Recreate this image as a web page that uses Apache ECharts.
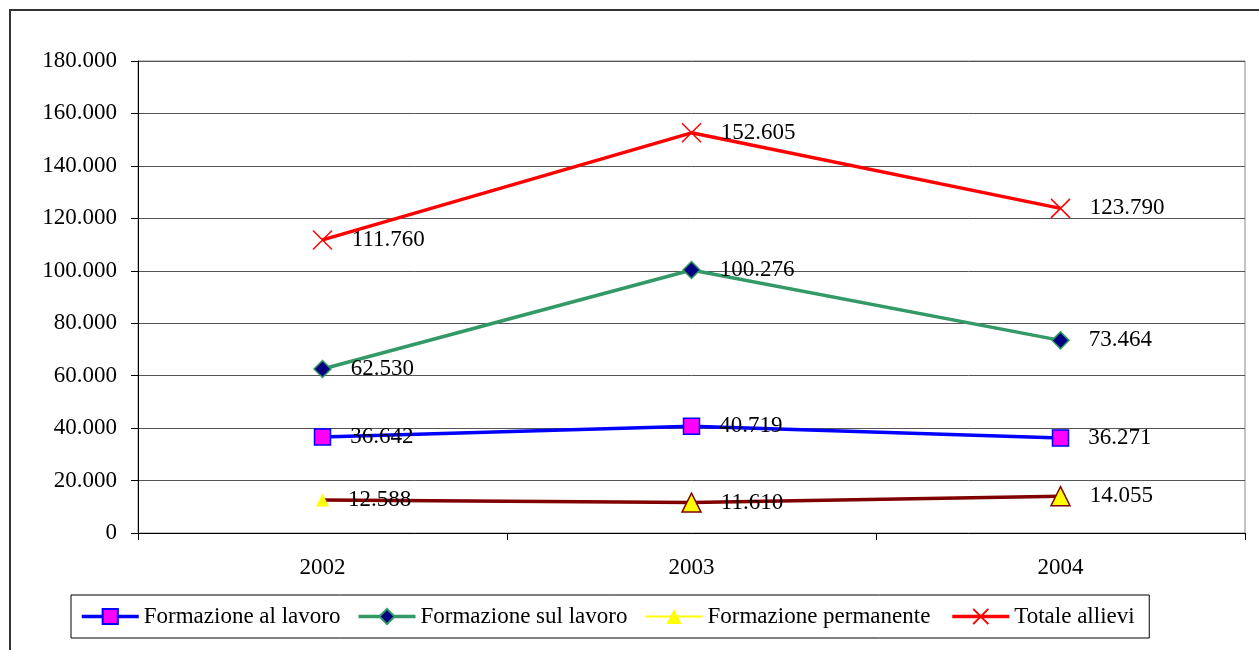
<!DOCTYPE html>
<html>
<head>
<meta charset="utf-8">
<script src="https://cdn.jsdelivr.net/npm/echarts@6/dist/echarts.min.js"></script>
<style>
  html, body { margin: 0; padding: 0; background: #fff; }
  #chart { width: 1259px; height: 650px; }
</style>
</head>
<body>
<div id="chart"></div>
<script>
// Allievi per tipologia di formazione, 2002-2004
const years = ['2002', '2003', '2004'];
const formazioneAlLavoro = [36642, 40719, 36271];
const formazioneSulLavoro = [62530, 100276, 73464];
const formazionePermanente = [12588, 11610, 14055];
const totaleAllievi = [111760, 152605, 123790];
const seriesNames = ['Formazione al lavoro', 'Formazione sul lavoro', 'Formazione permanente', 'Totale allievi'];

const FONT = "'Liberation Serif', 'Times New Roman', serif";

// Italian-style thousands separator: 36642 -> "36.642"
function fmt(v) {
  return String(Math.round(v)).replace(/\B(?=(\d{3})+(?!\d))/g, '.');
}

const labelCfg = {
  show: true,
  position: 'right',
  distance: 19,
  color: '#000',
  fontFamily: FONT,
  fontSize: 23,
  formatter: p => fmt(p.value)
};

const chart = echarts.init(document.getElementById('chart'), null, { renderer: 'canvas' });

chart.setOption({
  backgroundColor: '#fff',
  animation: false,
  graphic: [{
    type: 'polyline',
    shape: { points: [[10, 660], [10, 10], [1275, 10]] },
    style: { stroke: '#333', lineWidth: 2, fill: null }
  }],
  grid: {
    left: 138, right: 14, top: 61, bottom: 117,
    show: true, borderColor: '#888', borderWidth: 1
  },
  xAxis: {
    type: 'category',
    data: years,
    boundaryGap: true,
    axisLine: { lineStyle: { color: '#000', width: 1 } },
    axisTick: { show: true, length: 7, lineStyle: { color: '#000' } },
    axisLabel: { color: '#000', fontFamily: FONT, fontSize: 23, margin: 23 },
    splitLine: { show: false }
  },
  yAxis: {
    type: 'value',
    min: 0, max: 180000, interval: 20000,
    axisLine: { show: true, lineStyle: { color: '#000', width: 1 } },
    axisTick: { show: true, length: 7, lineStyle: { color: '#000' } },
    axisLabel: { color: '#000', fontFamily: FONT, fontSize: 23, margin: 21, formatter: v => fmt(v) },
    splitLine: { show: true, lineStyle: { color: '#555', width: 1 } }
  },
  legend: {
    left: 71, top: 595,
    orient: 'horizontal',
    padding: [9, 9, 9, 9],
    itemGap: 8,
    itemWidth: 57,
    itemHeight: 19,
    borderColor: '#000', borderWidth: 1,
    backgroundColor: '#fff',
    textStyle: { color: '#000', fontFamily: FONT, fontSize: 23, lineHeight: 25 },
    data: [
      { name: seriesNames[0], textStyle: { width: 205 }, lineStyle: { width: 3.5 } },
      { name: seriesNames[1], textStyle: { width: 216 }, lineStyle: { width: 3.5 } },
      { name: seriesNames[2], textStyle: { width: 235 },
        lineStyle: { color: '#FFFF00', width: 2 }, itemStyle: { color: '#FFFF00', borderWidth: 0 } },
      { name: seriesNames[3], textStyle: { width: 126 }, lineStyle: { width: 3.5 } }
    ]
  },
  series: [
    {
      name: seriesNames[0], type: 'line', data: formazioneAlLavoro,
      symbol: 'rect', symbolSize: 16,
      lineStyle: { color: '#0000FF', width: 3.5 },
      itemStyle: { color: '#FF00FF', borderColor: '#0000FF', borderWidth: 1.5 },
      label: labelCfg, z: 3
    },
    {
      name: seriesNames[1], type: 'line', data: formazioneSulLavoro,
      symbol: 'diamond', symbolSize: 17,
      lineStyle: { color: '#339966', width: 3.5 },
      itemStyle: { color: '#000080', borderColor: '#339966', borderWidth: 1.5 },
      label: labelCfg, z: 3
    },
    {
      name: seriesNames[2], type: 'line',
      data: formazionePermanente.map((v, i) => i === 0
        ? { value: v, symbolSize: 13, itemStyle: { borderWidth: 0 } }
        : { value: v }),
      symbol: 'triangle', symbolSize: 19,
      lineStyle: { color: '#800000', width: 3.5 },
      itemStyle: { color: '#FFFF00', borderColor: '#800000', borderWidth: 1.5 },
      label: labelCfg, z: 3
    },
    {
      name: seriesNames[3], type: 'line', data: totaleAllievi,
      symbol: 'path://M0,0L10,10M10,0L0,10', symbolSize: 19,
      lineStyle: { color: '#FF0000', width: 3.5 },
      itemStyle: { color: 'transparent', borderColor: '#FF0000', borderWidth: 1.5 },
      label: labelCfg, z: 3
    }
  ]
});
</script>
</body>
</html>
